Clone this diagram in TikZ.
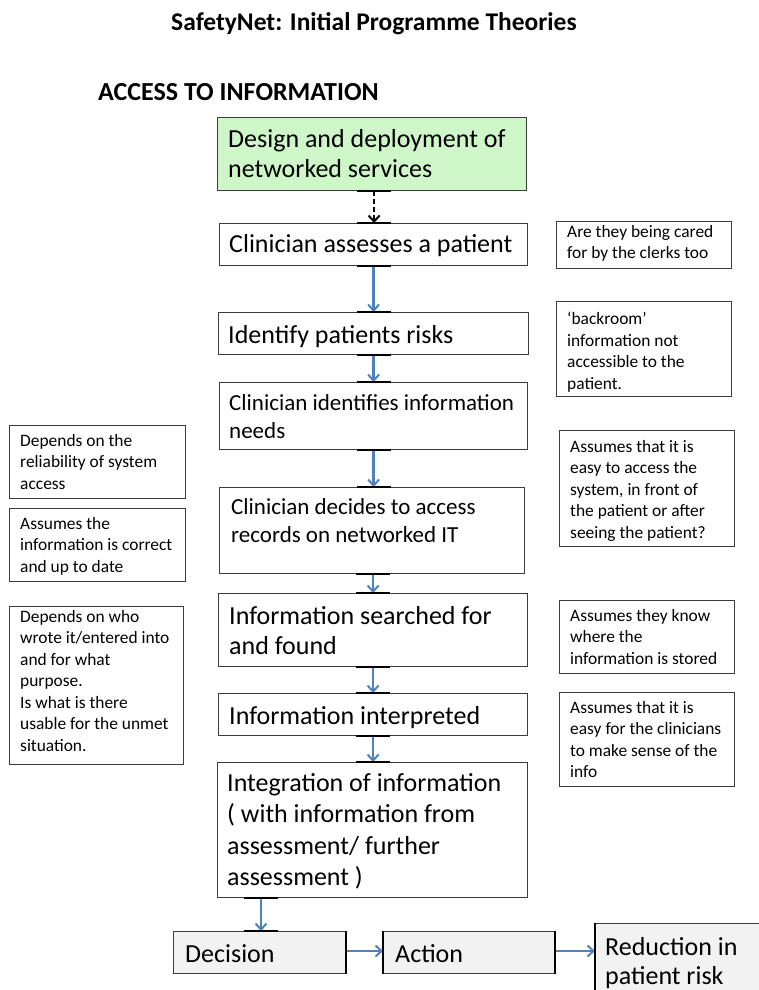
\documentclass[tikz,border=0pt]{standalone}
\usepackage{fontspec}
\setmainfont{Carlito}
\usetikzlibrary{arrows.meta,calc}
\definecolor{boxgreen}{RGB}{206,246,200}
\definecolor{boxgrey}{RGB}{242,242,242}
\definecolor{arrblue}{RGB}{79,129,189}
\definecolor{edge}{RGB}{60,60,60}
\tikzset{
  bx/.style={draw=edge, line width=1.1pt, inner sep=0pt, anchor=north west, fill=white},
  tx/.style={inner sep=0pt, anchor=north west, align=left},
  big/.style={font=\fontsize{26}{30}\selectfont},
  mid/.style={font=\fontsize{23}{28}\selectfont},
  small/.style={font=\fontsize{17.4}{21.5}\selectfont},
  flow/.style={draw=arrblue, line width=2.2pt, -{Straight Barb[length=6pt,width=11pt,line width=2pt]}},
  pin/.style={line width=2pt, black},
}
\begin{document}
\begin{tikzpicture}[x=1pt,y=-1pt]
\useasboundingbox[fill=white] (0,0) rectangle (759,990);

% titles
\node[inner sep=0pt, font=\bfseries\fontsize{25.5}{28}\selectfont] (title) at (374,24) {SafetyNet: Initial Programme Theories};
\node[inner sep=0pt, anchor=west, font=\bfseries\fontsize{26}{28}\selectfont] (sec) at (98,92) {ACCESS TO INFORMATION};

% main flow boxes
\node[bx, fill=boxgreen, minimum width=309pt, minimum height=73pt] (b1) at (217,117) {};
\node[tx, font=\fontsize{26}{30}\selectfont] (t1) at (228,129) {Design and deployment of\\networked services};

\node[bx, minimum width=308pt, minimum height=42pt] (b2) at (219,223) {};
\node[tx, big] (t2) at (229,234) {Clinician assesses a patient};

\node[bx, minimum width=310pt, minimum height=42pt] (b3) at (218,312) {};
\node[tx, big] (t3) at (228,325) {Identify patients risks};

\node[bx, minimum width=308pt, minimum height=67pt] (b4) at (219,382) {};
\node[tx, mid] (t4) at (229,394.5) {Clinician identifies information\\needs};

\node[bx, minimum width=305pt, minimum height=86pt] (b5) at (219,487) {};
\node[tx, mid] (t5) at (231,498.5) {Clinician decides to access\\records on networked IT};

\node[bx, minimum width=309pt, minimum height=73pt] (b6) at (218,593) {};
\node[tx, big] (t6) at (229,606) {Information searched for\\and found};

\node[bx, minimum width=309pt, minimum height=42pt] (b7) at (218,693) {};
\node[tx, big] (t7) at (229,706) {Information interpreted};

\node[bx, minimum width=310pt, minimum height=135pt] (b8) at (217,762) {};
\node[tx, font=\fontsize{26}{31.3}\selectfont] (t8) at (227,773.5) {Integration of information\\( with information from\\assessment/ further\\assessment )};

% bottom row
\node[bx, fill=boxgrey, minimum width=172pt, minimum height=42pt] (dec) at (173,931) {};
\node[tx, big] (tdec) at (185,944) {Decision};
\node[bx, fill=boxgrey, minimum width=171pt, minimum height=42pt] (act) at (383,931) {};
\node[tx, big] (tact) at (395,944) {Action};
\node[bx, fill=boxgrey, minimum width=180pt, minimum height=80pt] (red) at (595,923) {};
\node[tx, font=\fontsize{26}{29}\selectfont] (tred) at (605,937) {Reduction in\\patient risk};

% left notes
\node[bx, minimum width=176pt, minimum height=73pt] (l1) at (9,425) {};
\node[tx, small] (tl1) at (20,434) {Depends on the\\reliability of system\\access};
\node[bx, minimum width=176pt, minimum height=73pt] (l2) at (9,508) {};
\node[tx, small] (tl2) at (20,517) {Assumes the\\information is correct\\and up to date};
\node[bx, minimum width=174pt, minimum height=158pt] (l3) at (9,606) {};
\node[tx, small] (tl3) at (20,610) {Depends on who\\wrote it/entered into\\and for what\\purpose.\\Is what is there\\usable for the unmet\\situation.};

% right notes
\node[bx, minimum width=175pt, minimum height=47pt] (r1) at (556,221) {};
\node[tx, small] (tr1) at (567,225) {Are they being cared\\for by the clerks too};
\node[bx, minimum width=175pt, minimum height=95pt] (r2) at (556,301) {};
\node[tx, small] (tr2) at (567,312) {‘backroom’\\information not\\accessible to the\\patient.};
\node[bx, minimum width=175pt, minimum height=116pt] (r3) at (559,430) {};
\node[tx, small] (tr3) at (570,440) {Assumes that it is\\easy to access the\\system, in front of\\the patient or after\\seeing the patient?};
\node[bx, minimum width=175pt, minimum height=73pt] (r4) at (559,600) {};
\node[tx, small] (tr4) at (570,609) {Assumes they know\\where the\\information is stored};
\node[bx, minimum width=175pt, minimum height=94pt] (r5) at (559,692) {};
\node[tx, small] (tr5) at (570,701) {Assumes that it is\\easy for the clinicians\\to make sense of the\\info};

% connectors (vertical, kept straight)
\coordinate (s1) at ($(b1.south)+(2,0)$);
\coordinate (s2) at ($(b2.south)$);
\coordinate (s3) at ($(b3.south)$);
\coordinate (s4) at ($(b4.south)$);
\coordinate (s5) at ($(b5.south)+(1,0)$);
\coordinate (s6) at ($(b6.south)$);
\coordinate (s7) at ($(b7.south)$);
\draw[line width=2.2pt, dashed, dash pattern=on 5pt off 3pt, -{Straight Barb[length=6pt,width=11pt,line width=2pt]}] (s1) -- (s1 |- b2.north);
\draw[flow] (s2) -- (s2 |- b3.north);
\draw[flow] (s3) -- (s3 |- b4.north);
\draw[flow] (s4) -- (s4 |- b5.north);
\draw[flow] (s5) -- (s5 |- b6.north);
\draw[flow] (s6) -- (s6 |- b7.north);
\draw[flow] (s7) -- (s7 |- b8.north);
\coordinate (d8) at ($(b8.south west)+(44,0)$);
\draw[flow] (d8) -- (d8 |- dec.north);
\coordinate (da) at ($(dec.north east)+(0,20)$);
\draw[flow] (da) -- (da -| act.west);
\coordinate (ar) at ($(act.north east)+(0,20)$);
\draw[flow] (ar) -- (ar -| red.west);

% connection point marks
\foreach \c/\n in {s1/b2,s2/b3,s3/b4,s4/b5,s5/b6,s6/b7,s7/b8,d8/dec}{
  \draw[pin] ($(\c)+(-17,0)$) -- ($(\c)+(17,0)$);
  \draw[pin] ($(\c |- \n.north)+(-17,0)$) -- ($(\c |- \n.north)+(17,0)$);
}
\draw[pin] (dec.north east) -- (dec.south east);
\draw[pin] (act.north west) -- (act.south west);
\draw[pin] (act.north east) -- (act.south east);
\draw[pin] (red.north west) -- ($(red.north west)+(0,67)$);
\end{tikzpicture}
\end{document}
